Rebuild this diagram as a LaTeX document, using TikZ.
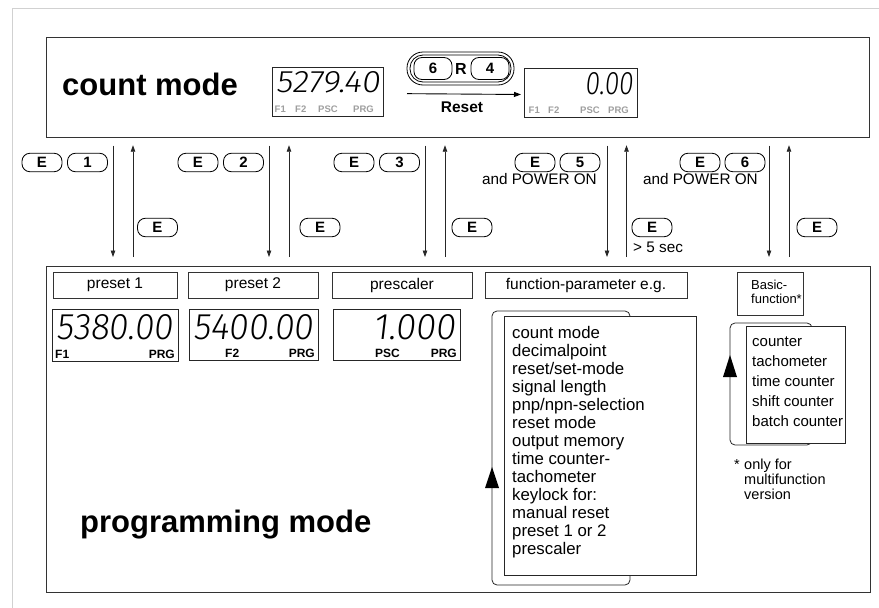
\documentclass[tikz,border=0pt]{standalone}
\usepackage{fontspec}
\usepackage{graphicx}
\setmainfont{Liberation Sans}
\IfFontExistsTF{Fira Sans Light}
  {\newfontfamily\lcdfont{Fira Sans Light}[FakeSlant=0.12]}
  {\newfontfamily\lcdfont{Liberation Sans}[FakeSlant=0.12]}
\usetikzlibrary{arrows.meta}
\newcommand{\lcdtext}[3]{\resizebox{#1}{#2}{\lcdfont #3}}
\newcommand{\myfs}[1]{\fontsize{#1}{#1}\selectfont}
\begin{document}
\begin{tikzpicture}[x=1pt,y=-1pt,
  modebox/.style={draw=black!80, line width=1pt, inner sep=0pt, anchor=north west},
  hdr/.style={draw=black!80, line width=0.8pt, inner sep=0pt, font=\myfs{15.5}},
  lcdbox/.style={draw=black!85, line width=1pt, inner sep=0pt, anchor=north west},
  btn/.style={draw=black, line width=0.85pt, rounded corners=8pt, minimum width=40pt, minimum height=18.5pt, inner sep=0pt, font=\bfseries\myfs{15}},
  varr/.style={draw=black!85, line width=0.8pt, -{Triangle[length=6.5pt,width=4.5pt]}},
  glbl/.style={inner sep=0pt, font=\bfseries\myfs{9.5}, text=black!38, anchor=base west},
  blbl/.style={inner sep=0pt, font=\bfseries\myfs{12}, anchor=base west},
  txt/.style={inner sep=0pt, font=\myfs{15.3}},
  listbox/.style={draw=black!85, line width=0.8pt, fill=white, inner sep=0pt, anchor=north west},
  loopline/.style={draw=black!85, line width=0.8pt, rounded corners=5pt},
]
\useasboundingbox (0,0) rectangle (879,608);
% faint outer frame
\draw[black!18, line width=0.8pt] (12.5,608) -- (12.5,8.5) -- (879,8.5);

% mode boxes
\node[modebox, minimum width=823pt, minimum height=100pt] (cm) at (45.7,36.7) {};
\node[modebox, minimum width=824pt, minimum height=326pt] (pm) at (45.7,266) {};
\node[inner sep=0pt, anchor=base west, font=\bfseries\myfs{31}] (cmt) at (62,95) {count mode};
\node[inner sep=0pt, anchor=base west, font=\bfseries\myfs{31}] (pmt) at (80,532) {programming mode};

% top displays
\node[lcdbox, minimum width=111pt, minimum height=49pt] (d1) at (272,66.5) {};
\node[inner sep=0pt, anchor=north east] (d1v) at (380,71) {\lcdtext{104pt}{21pt}{5279.40}};
\node[glbl] (d1a) at (274.5,112) {F1};
\node[glbl] (d1b) at (295,112) {F2};
\node[glbl] (d1c) at (318,112) {PSC};
\node[glbl] (d1d) at (353,112) {PRG};

\node[lcdbox, minimum width=113pt, minimum height=49pt] (d2) at (524,67.5) {};
\node[inner sep=0pt, anchor=north east] (d2v) at (633,72) {\lcdtext{48pt}{22pt}{0.00}};
\node[glbl] (d2a) at (528.5,113) {F1};
\node[glbl] (d2b) at (548,113) {F2};
\node[glbl] (d2c) at (580,113) {PSC};
\node[glbl] (d2d) at (608,113) {PRG};

% reset key group
\draw[line width=0.8pt, rounded corners=16pt] (407,52) rectangle (514,85);
\draw[line width=0.8pt, rounded corners=13pt] (410,55) rectangle (511,82);
\node[btn, minimum width=38pt, minimum height=22pt] (k6) at (433,68.5) {6};
\node[btn, minimum width=38pt, minimum height=22pt] (k4) at (490,68.5) {4};
\node[inner sep=0pt, font=\bfseries\myfs{16}] (kr) at (461,68.5) {R};
\draw[line width=0.9pt, -{Triangle[length=7pt,width=5pt]}, shorten <=23pt, shorten >=3pt] ([yshift=-2pt]d1.east) -- ([yshift=-2pt]d2.west);
\node[inner sep=0pt, anchor=base, font=\bfseries\myfs{15.5}] (rst) at (462,112) {Reset};

% vertical connectors
\foreach \i/\d/\u in {1/113/133, 2/269/289, 3/425/445, 4/607/626.5, 5/769/789} {
  \coordinate (dn\i) at (\d,0);
  \coordinate (up\i) at (\u,0);
  \draw[varr, shorten <=7.8pt, shorten >=9pt] (cm.south -| dn\i) -- (pm.north -| dn\i);
  \draw[varr, shorten <=9pt, shorten >=7.5pt] (pm.north -| up\i) -- (cm.south -| up\i);
}

% keys
\node[btn] (e1) at (42,162.5) {E};
\node[btn] (n1) at (87.5,162.5) {1};
\node[btn] (eu1) at (157.5,227.5) {E};
\node[btn] (e2) at (198,162.5) {E};
\node[btn] (n2) at (243.5,162.5) {2};
\node[btn] (eu2) at (320,227.5) {E};
\node[btn] (e3) at (354,162.5) {E};
\node[btn] (n3) at (399.5,162.5) {3};
\node[btn] (eu3) at (472,227.5) {E};
\node[btn] (e5) at (535,162.5) {E};
\node[btn] (n5) at (580,162.5) {5};
\node[txt, anchor=base east] (pw5) at (597,184) {and POWER ON};
\node[btn] (eu5) at (652,227.5) {E};
\node[txt, anchor=base west] (sec) at (633,252) {> 5 sec};
\node[btn] (e6) at (700,162.5) {E};
\node[btn] (n6) at (745,162.5) {6};
\node[txt, anchor=base east] (pw6) at (758,184) {and POWER ON};
\node[btn] (eu6) at (817,227.5) {E};

% header boxes
\node[hdr, minimum width=124pt, minimum height=26pt] (h1) at (115,285) {preset 1};
\node[hdr, minimum width=130pt, minimum height=26pt] (h2) at (253,285) {preset 2};
\node[hdr, minimum width=140pt, minimum height=26pt] (h3) at (402,285) {prescaler};
\node[hdr, minimum width=202pt, minimum height=26pt] (h4) at (586,285) {function-parameter e.g.};
\node[hdr, minimum width=66pt, minimum height=43pt, anchor=north west] (h5) at (737,272) {};
\node[inner sep=0pt, anchor=north west, align=left, font=\fontsize{13}{14.5}\selectfont] (h5t) at (751,279.5) {Basic-\\function*};

% lower displays
\node[lcdbox, minimum width=126pt, minimum height=52pt] (p1) at (52,309) {};
\node[inner sep=0pt, anchor=north west] (p1v) at (56,314) {\lcdtext{117pt}{25pt}{5380.00}};
\node[blbl] (p1a) at (55,358.5) {F1};
\node[blbl, anchor=base east] (p1b) at (175,358.5) {PRG};

\node[lcdbox, minimum width=129pt, minimum height=51pt] (p2) at (189,309) {};
\node[inner sep=0pt, anchor=north west] (p2v) at (193,314) {\lcdtext{120pt}{25pt}{5400.00}};
\node[blbl] (p2a) at (225,357.5) {F2};
\node[blbl, anchor=base east] (p2b) at (315,357.5) {PRG};

\node[lcdbox, minimum width=127pt, minimum height=51pt] (p3) at (333,309) {};
\node[inner sep=0pt, anchor=north east] (p3v) at (456,314) {\lcdtext{82pt}{25pt}{1.000}};
\node[blbl] (p3a) at (375,357.5) {PSC};
\node[blbl, anchor=base east] (p3b) at (457,357.5) {PRG};

% function-parameter list
\draw[loopline] (492,311) rectangle (630,585);
\fill[black] (485,488) -- (499,488) -- (492,467) -- cycle;
\node[listbox, minimum width=192pt, minimum height=259pt] (fl) at (504,316) {};
\node[inner sep=0pt, anchor=north west, align=left, font=\fontsize{16.8}{18}\selectfont] (flt) at (512,326) {count mode\\decimalpoint\\reset/set-mode\\signal length\\pnp/npn-selection\\reset mode\\output memory\\time counter-\\tachometer\\keylock for:\\manual reset\\preset 1 or 2\\prescaler};

% basic function list
\draw[loopline] (730,323) rectangle (812,445);
\fill[black] (723,377) -- (737,377) -- (730,355) -- cycle;
\node[listbox, minimum width=99pt, minimum height=117pt] (bl) at (746,326) {};
\node[inner sep=0pt, anchor=north west, align=left, font=\fontsize{15}{20}\selectfont] (blt) at (752,337) {counter\\tachometer\\time counter\\shift counter\\batch counter};

% footnote
\node[inner sep=0pt, anchor=north west, font=\myfs{14.5}] (star) at (734,459) {*};
\node[inner sep=0pt, anchor=north west, align=left, font=\fontsize{14.5}{15}\selectfont] (fn) at (744,459) {only for\\multifunction\\version};
\end{tikzpicture}
\end{document}
